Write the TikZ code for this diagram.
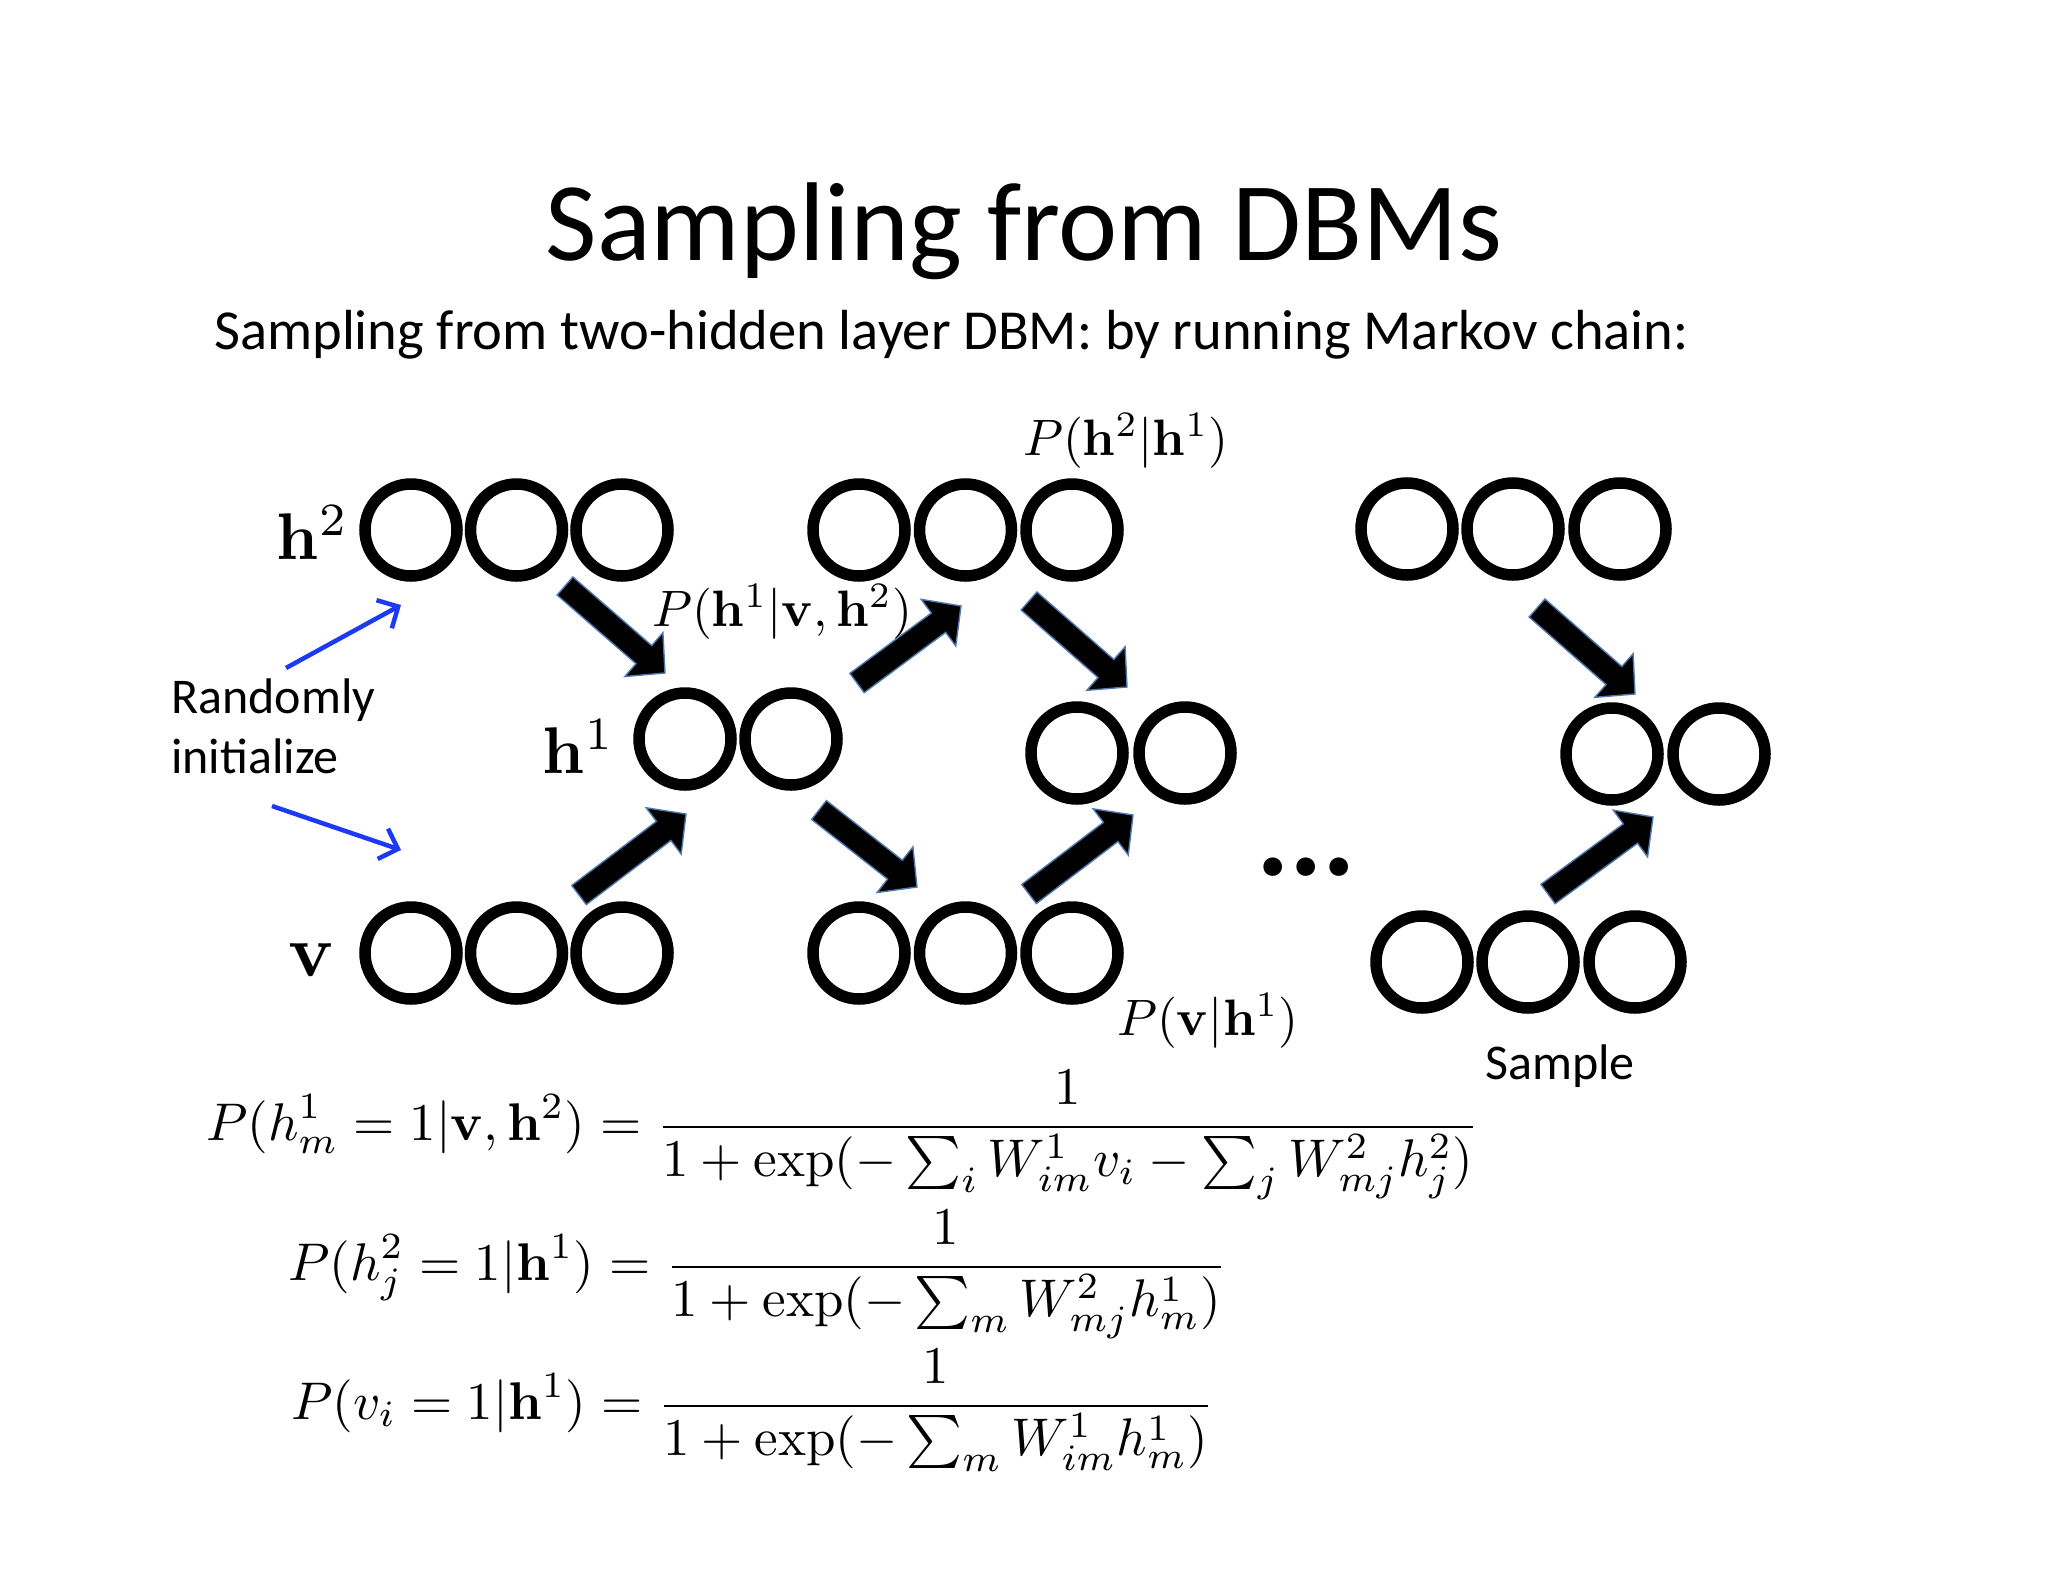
\documentclass[tikz,border=0pt]{standalone}
\usepackage[no-math]{fontspec}
\setmainfont{Carlito}
\usetikzlibrary{arrows.meta,calc}
\definecolor{initblue}{RGB}{28,58,245}
\definecolor{arredge}{RGB}{80,120,175}
\tikzset{
  unit/.style={circle, draw=black, line width=11.5pt, minimum size=92pt, inner sep=0pt},
  bigarrow/.style={fill=black, draw=arredge, line width=1.4pt, line join=miter},
  initarrow/.style={draw=initblue, line width=4.5pt, -{Straight Barb[length=16pt,width=32pt]}},
  txt/.style={inner sep=0pt, anchor=base west},
  lbl/.style={inner sep=0pt, font=\fontsize{10}{12}\selectfont, scale=6.6},
  plbl/.style={inner sep=0pt, anchor=base west, font=\fontsize{10}{12}\selectfont, scale=5.12},
  eqn/.style={inner sep=0pt, anchor=base west, font=\fontsize{10}{12}\selectfont, scale=5.3}
}
\newcommand\blockarrow[2]{%
  \coordinate (ba-base) at ($(#2)!28pt!(#1)$);
  \filldraw[bigarrow] ($(#1)!12pt!90:(#2)$) -- ($(ba-base)!12pt!90:(#2)$)
    -- ($(ba-base)!29pt!90:(#2)$) -- (#2) -- ($(ba-base)!29pt!-90:(#2)$)
    -- ($(ba-base)!12pt!-90:(#2)$) -- ($(#1)!12pt!-90:(#2)$) -- cycle;
}
\begin{document}
\begin{tikzpicture}[x=1pt,y=-1pt]
\useasboundingbox (0,0) rectangle (2048,1582);
\fill[white] (0,0) rectangle (2048,1582);

% titles
\node[inner sep=0pt, anchor=base, font=\fontsize{112}{134}\selectfont] (title) at (1024,260) {Sampling from DBMs};
\node[txt, font=\fontsize{56.5}{67}\selectfont] (sub) at (214,349) {Sampling from two-hidden layer DBM: by running Markov chain:};

% group 1
\node[unit] (t1a) at (411,530) {};
\node[unit] (t1b) at (516.5,530) {};
\node[unit] (t1c) at (622,530) {};
\node[unit] (m1a) at (685,739) {};
\node[unit] (m1b) at (791,739) {};
\node[unit] (b1a) at (411,953) {};
\node[unit] (b1b) at (516.5,953) {};
\node[unit] (b1c) at (622,953) {};
% group 2
\node[unit] (t2a) at (859,530) {};
\node[unit] (t2b) at (965.5,530) {};
\node[unit] (t2c) at (1072,530) {};
\node[unit] (m2a) at (1077,753) {};
\node[unit] (m2b) at (1185,753) {};
\node[unit] (b2a) at (859,953) {};
\node[unit] (b2b) at (965.5,953) {};
\node[unit] (b2c) at (1072,953) {};
% group 3
\node[unit] (t3a) at (1407,529) {};
\node[unit] (t3b) at (1513,529) {};
\node[unit] (t3c) at (1620,529) {};
\node[unit] (m3a) at (1612,754) {};
\node[unit] (m3b) at (1719,754) {};
\node[unit] (b3a) at (1422,962) {};
\node[unit] (b3b) at (1528,962) {};
\node[unit] (b3c) at (1635,962) {};

% layer labels
\node[lbl, anchor=base east] (lh2) at (350,559) {$\mathbf{h}^2$};
\node[lbl, anchor=base east] (lh1) at (616,773) {$\mathbf{h}^1$};
\node[lbl, anchor=base east, scale=1.12] (lv) at (336,976) {$\mathbf{v}$};

% conditional labels
\node[plbl] (p21) at (1022,455) {$P(\mathbf{h}^2|\mathbf{h}^1)$};
\node[plbl] (p1v2) at (651,626) {$P(\mathbf{h}^1|\mathbf{v},\mathbf{h}^2)$};
\node[plbl] (pv1) at (1116,1035) {$P(\mathbf{v}|\mathbf{h}^1)$};

% block arrows
\coordinate (a1s) at (565,586);  \coordinate (a1e) at (665,673);
\coordinate (a2s) at (579,895);  \coordinate (a2e) at (686,814);
\coordinate (a3s) at (857,683);  \coordinate (a3e) at (961,606);
\coordinate (a4s) at (819,810);  \coordinate (a4e) at (917,887);
\coordinate (a5s) at (1029,601); \coordinate (a5e) at (1127,687);
\coordinate (a6s) at (1029,894); \coordinate (a6e) at (1133,815);
\coordinate (a7s) at (1537,608); \coordinate (a7e) at (1635,694);
\coordinate (a8s) at (1548,894); \coordinate (a8e) at (1653,817);
\blockarrow{a1s}{a1e}
\blockarrow{a2s}{a2e}
\blockarrow{a3s}{a3e}
\blockarrow{a4s}{a4e}
\blockarrow{a5s}{a5e}
\blockarrow{a6s}{a6e}
\blockarrow{a7s}{a7e}
\blockarrow{a8s}{a8e}

% randomly initialize
\node[txt, font=\fontsize{50}{60}\selectfont] (rand1) at (171,713) {Randomly};
\node[txt, font=\fontsize{50}{60}\selectfont] (rand2) at (171,773) {initialize};
\coordinate (r1s) at (286,668); \coordinate (r1e) at (401,605);
\coordinate (r2s) at (272,806); \coordinate (r2e) at (401,850);
\draw[initarrow] (r1s) -- (r1e);
\draw[initarrow] (r2s) -- (r2e);

% dots and sample
\node[txt, font=\fontsize{125}{130}\selectfont\bfseries] (dots) at (1256,875) {...};
\node[txt, font=\fontsize{50}{60}\selectfont] (sample) at (1485,1079) {Sample};

% equations
\node[eqn] (eq1) at (205,1140) {$\displaystyle P(h^1_m=1|\mathbf{v},\mathbf{h}^2)=\frac{1}{1+\exp(-\sum_i W^1_{im}v_i-\sum_j W^2_{mj}h^2_j)}$};
\node[eqn] (eq2) at (287,1280) {$\displaystyle P(h^2_j=1|\mathbf{h}^1)=\frac{1}{1+\exp(-\sum_m W^2_{mj}h^1_m)}$};
\node[eqn] (eq3) at (290,1419) {$\displaystyle P(v_i=1|\mathbf{h}^1)=\frac{1}{1+\exp(-\sum_m W^1_{im}h^1_m)}$};
\end{tikzpicture}
\end{document}
